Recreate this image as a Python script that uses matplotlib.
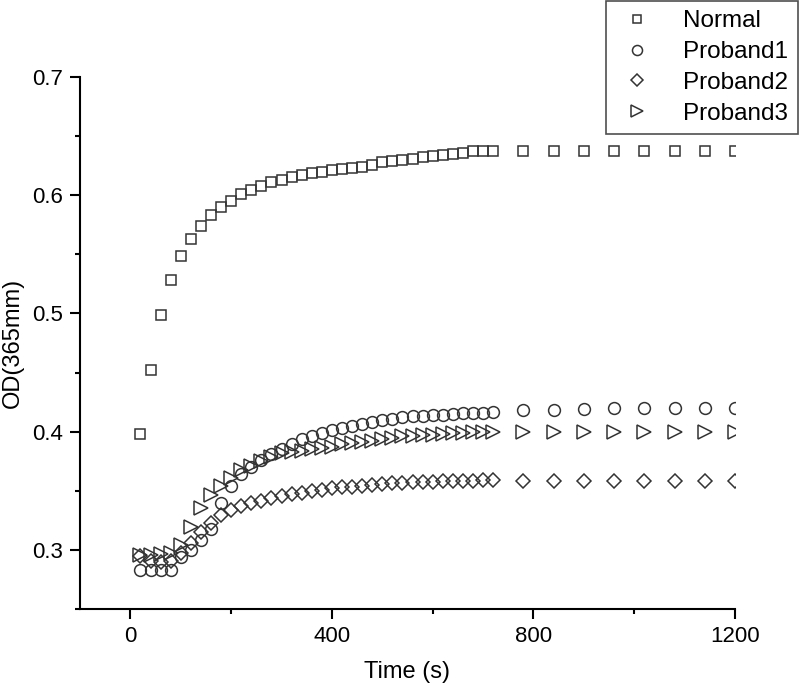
import numpy as np
import matplotlib
matplotlib.use("Agg")
import matplotlib.pyplot as plt
from matplotlib.ticker import MultipleLocator

plt.rcParams['font.family'] = ['Liberation Sans', 'DejaVu Sans']

# time points: every 20 s up to 720 s, then every 60 s
time = list(range(20, 721, 20)) + list(range(780, 1201, 60))

normal = [0.398, 0.452, 0.499, 0.528, 0.549, 0.563, 0.574, 0.583, 0.590, 0.595,
          0.601, 0.604, 0.608, 0.611, 0.613, 0.615, 0.617, 0.619, 0.620, 0.6215,
          0.622, 0.623, 0.624, 0.6255, 0.628, 0.629, 0.630, 0.631, 0.632, 0.633,
          0.634, 0.635, 0.636, 0.637, 0.637, 0.637,
          0.637, 0.637, 0.637, 0.637, 0.637, 0.637, 0.637, 0.637]

proband1 = [0.283, 0.283, 0.283, 0.283, 0.294, 0.300, 0.308, 0.318, 0.340, 0.354,
            0.364, 0.370, 0.376, 0.381, 0.385, 0.390, 0.3936, 0.396, 0.399, 0.4015,
            0.403, 0.405, 0.4066, 0.4085, 0.410, 0.411, 0.412, 0.413, 0.4135, 0.414,
            0.4145, 0.415, 0.4155, 0.416, 0.416, 0.4165,
            0.418, 0.418, 0.419, 0.420, 0.420, 0.420, 0.420, 0.420]

proband2 = [0.295, 0.291, 0.290, 0.291, 0.297, 0.306, 0.3155, 0.3226, 0.3296, 0.3338,
            0.3372, 0.3395, 0.3417, 0.3437, 0.3457, 0.3474, 0.3485, 0.3499, 0.3507, 0.3522,
            0.353, 0.3535, 0.354, 0.355, 0.3556, 0.3564, 0.357, 0.3573, 0.3576, 0.3578,
            0.358, 0.3582, 0.3584, 0.3586, 0.3588, 0.359,
            0.358, 0.358, 0.358, 0.358, 0.358, 0.358, 0.358, 0.358]

proband3 = [0.2955, 0.2958, 0.2966, 0.2977, 0.3042, 0.3197, 0.3352, 0.3465, 0.354, 0.3611,
            0.3677, 0.371, 0.3755, 0.379, 0.3818, 0.3832, 0.384, 0.385, 0.386, 0.3874,
            0.3896, 0.3907, 0.3916, 0.3924, 0.3936, 0.3945, 0.396, 0.3966, 0.397, 0.3975,
            0.398, 0.3985, 0.399, 0.3995, 0.400, 0.400,
            0.400, 0.400, 0.400, 0.400, 0.400, 0.400, 0.400, 0.400]

series = [("Normal", normal, "s", 7.5), ("Proband1", proband1, "o", 8.5),
          ("Proband2", proband2, "D", 7.0), ("Proband3", proband3, ">", 9.5)]

fig = plt.figure(figsize=(8, 6.86), dpi=100)
ax = fig.add_axes([0.1, 0.1122, 0.81875, 0.7756])

ec = '#333333'
for name, vals, m, ms in series:
    ax.plot(time, vals, linestyle='none', marker=m, markersize=ms,
            markerfacecolor='none', markeredgecolor=ec, markeredgewidth=1.1,
            label=name)

ax.set_xlim(-100, 1200)
ax.set_ylim(0.25, 0.7)
ax.xaxis.set_minor_locator(MultipleLocator(200))
ax.yaxis.set_minor_locator(MultipleLocator(0.05))
ax.set_xticks([0, 400, 800, 1200])
ax.set_yticks([0.3, 0.4, 0.5, 0.6, 0.7])
ax.set_yticklabels(['0.3', '0.4', '0.5', '0.6', '0.7'])

for s in ['top', 'right']:
    ax.spines[s].set_visible(False)
for s in ['left', 'bottom']:
    ax.spines[s].set_linewidth(1.5)
ax.tick_params(which='major', length=7, width=1.5, direction='out', labelsize=16, pad=5)
ax.tick_params(which='minor', length=3.5, width=1.5, direction='out')

ax.set_xlabel('Time (s)', fontsize=17, labelpad=10)
ax.set_ylabel('OD(365mm)', fontsize=17, labelpad=6)

leg = fig.legend(loc='upper right', bbox_to_anchor=(0.9975, 0.999), fontsize=17.5,
                 frameon=True, fancybox=False, edgecolor='#222222', handletextpad=1.0,
                 markerscale=0.85, borderpad=0.4, labelspacing=0.36, handlelength=1.8,
                 borderaxespad=0)
leg.get_frame().set_linewidth(1.2)

fig.savefig('out.png', dpi=100)
